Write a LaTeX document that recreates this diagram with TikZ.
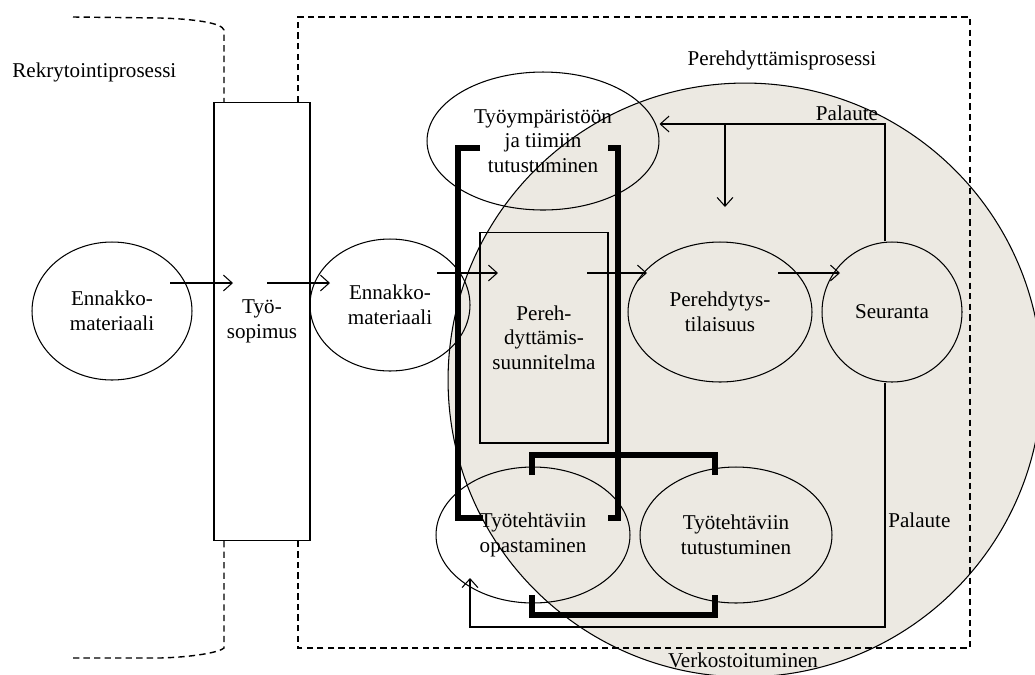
\documentclass[tikz,border=0pt]{standalone}
\usepackage{fontspec}
\setmainfont{Liberation Serif}
\usetikzlibrary{shapes.geometric,arrows.meta}
\definecolor{circlefill}{RGB}{236,233,226}
\tikzset{
  oval/.style={ellipse, draw, line width=0.6pt, inner sep=0pt, align=center},
  boxnode/.style={rectangle, draw, line width=0.6pt, inner sep=0pt, align=center},
  arr/.style={line width=0.6pt, -{Straight Barb[length=5pt,width=9pt]}},
  fbline/.style={line width=0.6pt},
  bracketline/.style={line width=3.4pt},
  dashline/.style={line width=0.8pt, dash pattern=on 3.6pt off 2.4pt},
  lbl/.style={inner sep=0pt}
}
\begin{document}
\begin{tikzpicture}[x=0.02cm,y=-0.02cm,font=\fontsize{12}{14}\selectfont]
  \useasboundingbox (0,0) rectangle (1035,674);

  % Drawing the big circle (behind everything)
  \begin{scope}
    \clip (0,0) rectangle (1035,674);
    \fill [circlefill] (745,380) circle (5.94cm);
    \draw [line width=0.6pt] (745,380) circle (5.94cm);
  \end{scope}

  % Drawing dashed process borders
  \draw [dashline] (73,17) -- (160,18) .. controls (195,19) and (222,23) .. (224,30) -- (224,102);%
  \draw [dashline] (224,541) -- (224,648) .. controls (220,652) and (195,657) .. (160,658) -- (73,658);%
  \draw [dashline] (298,102) -- (298,17) -- (970,17) -- (970,648) -- (298,648) -- (298,541);%

  % Labels of the processes
  \node [lbl, anchor=west] (rekry) at (12,72) {Rekrytointiprosessi};%
  \node [lbl] (pereh) at (782,60) {Perehdyttämisprosessi};%
  \node [lbl] (verkosto) at (743,660) {Verkostoituminen};%

  % Marking the nodes
  \node [oval, minimum width=3.2cm, minimum height=2.76cm] (ennakko1) at (112,311) {Ennakko-\\materiaali};%
  \node [boxnode, minimum width=1.92cm, minimum height=8.78cm] (sopimus) at (262,321.5) {Työ-\\sopimus};%
  \node [oval, minimum width=3.2cm, minimum height=2.64cm] (ennakko2) at (390,305) {Ennakko-\\materiaali};%
  \node [oval, minimum width=4.64cm, minimum height=2.76cm] (tyoymp) at (543,141) {Työympäristöön\\ja tiimiin\\tutustuminen};%
  \node [boxnode, minimum width=2.56cm, minimum height=4.22cm] (suunnitelma) at (544,337.5) {Pereh-\\dyttämis-\\suunnitelma};%
  \node [oval, minimum width=3.68cm, minimum height=2.8cm] (tilaisuus) at (720,312) {Perehdytys-\\tilaisuus};%
  \node [oval, minimum width=2.8cm, minimum height=2.8cm] (seuranta) at (892,312) {Seuranta};%
  \node [oval, minimum width=3.88cm, minimum height=2.72cm] (opastaminen) at (533,535) {Työtehtäviin\\opastaminen};%
  \node [oval, minimum width=3.84cm, minimum height=2.72cm] (tutustuminen) at (736,535) {Työtehtäviin\\tutustuminen};%

  % Thick brackets
  \draw [bracketline] (480,148) -- (458,148) -- (458,518) -- (483,518);%
  \draw [bracketline] (608,148) -- (618,148) -- (618,518) -- (608,518);%
  \draw [bracketline] (532,475) -- (532,455) -- (715,455) -- (715,475);%
  \draw [bracketline] (532,595) -- (532,615) -- (715,615) -- (715,595);%

  % Arrow end points of the main row
  \coordinate (a1s) at (170,283);
  \coordinate (a1e) at (233,283);
  \coordinate (a2s) at (267,283);
  \coordinate (a2e) at (330,283);
  \coordinate (a3s) at (437,273);
  \coordinate (a3e) at (498,273);
  \coordinate (a4s) at (587,273);
  \coordinate (a4e) at (647,273);
  \coordinate (a5s) at (778,273);
  \coordinate (a5e) at (840,273);

  % Drawing the main row arrows
  \draw [arr] (a1s) -- (a1e);%
  \draw [arr] (a2s) -- (a2e);%
  \draw [arr] (a3s) -- (a3e);%
  \draw [arr] (a4s) -- (a4e);%
  \draw [arr] (a5s) -- (a5e);%

  % Feedback at the top
  \coordinate (fbtop) at (885,124);
  \coordinate (fbdown) at (725,124);
  \coordinate (fbdownend) at (725,207);
  \draw [arr] (seuranta.north -| fbtop) -- (fbtop) -- (fbtop -| tyoymp.east);%
  \draw [arr] (fbdown) -- (fbdownend);%
  \node [lbl, anchor=south] (palaute1) at (847,121) {Palaute};%

  % Feedback at the bottom
  \coordinate (fbbot) at (885,627);
  \coordinate (fbleft) at (470,627);
  \coordinate (fbend) at (470,578);
  \draw [arr] (seuranta.south -| fbbot) -- (fbbot) -- (fbleft) -- (fbend);%
  \node [lbl, anchor=west] (palaute2) at (888,520) {Palaute};%
\end{tikzpicture}
\end{document}
